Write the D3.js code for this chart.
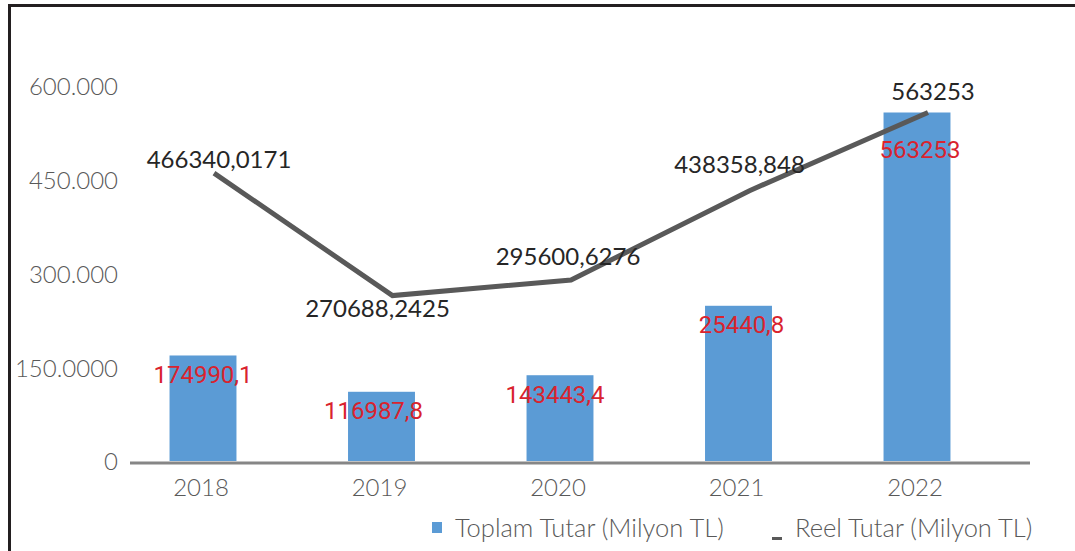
<!DOCTYPE html>
<html>
<head>
<meta charset="utf-8">
<script src="https://cdn.jsdelivr.net/npm/d3@7"></script>
<style>
  body { margin: 0; background: #fff; }
  svg { display: block; font-family: Lato, "Open Sans", sans-serif; font-weight: 300; }
</style>
</head>
<body>
<div id="chart"></div>
<script>
// Data
const categories = ['2018', '2019', '2020', '2021', '2022'];
const toplamValues = [174990.1, 116987.8, 143443.4, 254408, 563253];
const toplamLabels = ['174990,1', '116987,8', '143443,4', '25440,8', '563253'];
const reelValues = [466340.0171, 270688.2425, 295600.6276, 438358.848, 563253];
const reelLabels = ['466340,0171', '270688,2425', '295600,6276', '438358,848', '563253'];
const yTicks = [0, 150000, 300000, 450000, 600000];
const yTickLabels = ['0', '150.0000', '300.000', '450.000', '600.000'];
const seriesNames = ['Toplam Tutar (Milyon TL)', 'Reel Tutar (Milyon TL)'];

// Label nudges (layout only)
const barLabelDx = [0, -8, -5, 3, 3];
const barLabelDy = [19, 19, 19, 19, 37];
const lineLabelDx = [5, -15, -3, -10, 5];
const lineLabelDy = [-14, 13, -23, -26, -21];

const width = 1075;
const height = 551;

const svg = d3.select('#chart').append('svg')
  .attr('width', width)
  .attr('height', height);

// Frame (top + left edges visible)
svg.append('path')
  .attr('d', `M9.5,${height} L9.5,5.5 L${width},5.5`)
  .attr('fill', 'none')
  .attr('stroke', '#231f20')
  .attr('stroke-width', 3);

const x = d3.scalePoint()
  .domain(categories)
  .range([203, 917]);

const barWidth = x.step() * 0.375;
const lineShift = 11;

const y = d3.scaleLinear()
  .domain([0, 600000])
  .range([465, 89.5]);

// Y tick labels
svg.append('g')
  .selectAll('text')
  .data(yTicks)
  .join('text')
  .attr('x', 118)
  .attr('y', d => y(d) - 3)
  .attr('dy', '0.35em')
  .attr('text-anchor', 'end')
  .attr('fill', '#595959')
  .style('font-size', '24px')
  .text((d, i) => yTickLabels[i]);

// Bars
svg.append('g')
  .selectAll('rect')
  .data(toplamValues)
  .join('rect')
  .attr('x', (d, i) => x(categories[i]) - barWidth / 2)
  .attr('y', d => y(d))
  .attr('width', barWidth)
  .attr('height', d => y(0) - 4 - y(d))
  .attr('fill', '#5b9bd5');

// Axis line
svg.append('line')
  .attr('x1', 130)
  .attr('x2', 1030)
  .attr('y1', y(0) - 2)
  .attr('y2', y(0) - 2)
  .attr('stroke', '#868686')
  .attr('stroke-width', 3);

// Category labels
svg.append('g')
  .selectAll('text')
  .data(categories)
  .join('text')
  .attr('x', d => x(d) - 2)
  .attr('y', 488)
  .attr('dy', '0.35em')
  .attr('text-anchor', 'middle')
  .attr('fill', '#595959')
  .style('font-size', '24px')
  .text(d => d);

// Line
const line = d3.line()
  .x((d, i) => x(categories[i]) + lineShift)
  .y(d => y(d));

svg.append('path')
  .datum(reelValues)
  .attr('d', line)
  .attr('fill', 'none')
  .attr('stroke', '#595959')
  .attr('stroke-width', 5);

// Bar labels
svg.append('g')
  .selectAll('text')
  .data(toplamValues)
  .join('text')
  .attr('x', (d, i) => x(categories[i]) + barLabelDx[i])
  .attr('y', (d, i) => y(d) + barLabelDy[i])
  .attr('dy', '0.35em')
  .attr('text-anchor', 'middle')
  .attr('fill', '#d9232e')
  .style('font-family', 'Roboto, sans-serif')
  .style('font-weight', 400)
  .style('font-size', '24px')
  .text((d, i) => toplamLabels[i]);

// Line labels
svg.append('g')
  .selectAll('text')
  .data(reelValues)
  .join('text')
  .attr('x', (d, i) => x(categories[i]) + lineShift + lineLabelDx[i])
  .attr('y', (d, i) => y(d) + lineLabelDy[i])
  .attr('dy', '0.35em')
  .attr('text-anchor', 'middle')
  .attr('fill', '#262626')
  .style('font-weight', 400)
  .style('font-size', '24px')
  .text((d, i) => reelLabels[i]);

// Legend
const legend = svg.append('g');
legend.append('rect')
  .attr('x', 432).attr('y', 522)
  .attr('width', 10).attr('height', 11)
  .attr('fill', '#5b9bd5');
legend.append('text')
  .attr('x', 455).attr('y', 528).attr('dy', '0.35em')
  .attr('fill', '#595959')
  .style('font-size', '25.5px')
  .text(seriesNames[0]);
legend.append('rect')
  .attr('x', 772).attr('y', 537)
  .attr('width', 10).attr('height', 3)
  .attr('fill', '#595959');
legend.append('text')
  .attr('x', 795).attr('y', 528).attr('dy', '0.35em')
  .attr('fill', '#595959')
  .style('font-size', '25.5px')
  .text(seriesNames[1]);
</script>
</body>
</html>
